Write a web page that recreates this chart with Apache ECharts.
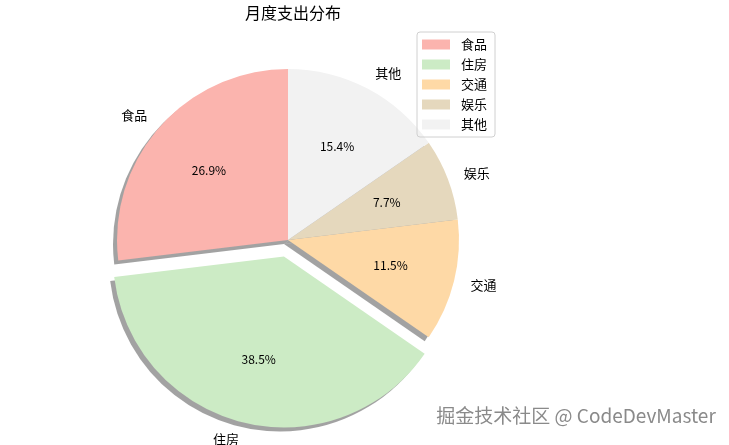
<!DOCTYPE html>
<html>
<head>
<meta charset="utf-8">
<script src="https://cdn.jsdelivr.net/npm/echarts@6/dist/echarts.min.js"></script>
<style>
  html, body { margin: 0; padding: 0; background: #fff; }
  #main { width: 729px; height: 445px; }
</style>
</head>
<body>
<div id="main"></div>
<script>
// 月度支出数据
var categories = ['食品', '住房', '交通', '娱乐', '其他'];
var amounts = [3500, 5000, 1500, 1000, 2000];
var colors = ['#fbb4ae', '#ccebc5', '#fed9a6', '#e5d8bd', '#f2f2f2'];
var explodeName = '住房';

var myChart = echarts.init(document.getElementById('main'));
var FONT = '"Noto Sans CJK SC", "DejaVu Sans", sans-serif';
var R = 171;
var CX = 288, CY = 240;

function buildData(fill) {
    return categories.map(function (name, i) {
        return {
            name: name,
            value: amounts[i],
            selected: name === explodeName,
            itemStyle: { color: fill ? fill : colors[i] }
        };
    });
}

var common = {
    type: 'pie',
    startAngle: 90,
    clockwise: false,
    selectedMode: 'single',
    selectedOffset: 17,
    avoidLabelOverlap: false,
    animation: false,
    emphasis: { disabled: true },
    minShowLabelAngle: 0
};

var option = {
    title: {
        text: '月度支出分布',
        left: CX,
        top: 0,
        textAlign: 'center',
        textStyle: { fontFamily: FONT, fontSize: 16, fontWeight: 'normal', color: '#000' }
    },
    legend: {
        orient: 'vertical',
        left: 417,
        top: 32,
        data: categories,
        itemWidth: 28,
        itemHeight: 10,
        itemGap: 7,
        padding: [6, 8, 6, 5],
        borderColor: '#d0d0d0',
        borderWidth: 1,
        borderRadius: 3,
        selectedMode: false,
        icon: 'rect',
        textStyle: { fontFamily: FONT, fontSize: 13, color: '#000', padding: [0, 0, 0, 6] }
    },
    graphic: [{
        type: 'text',
        right: 13,
        top: 406,
        style: {
            text: '掘金技术社区 @ CodeDevMaster',
            font: '19px ' + FONT,
            fill: '#8a8a8a',
            stroke: '#ffffff',
            lineWidth: 0.5
        }
    }],
    series: [
        Object.assign({}, common, {
            name: 'main',
            z: 3,
            center: [CX, CY],
            radius: R,
            data: buildData(null),
            label: {
                show: true,
                position: 'outside',
                formatter: '{b}',
                fontFamily: FONT,
                fontSize: 13,
                color: '#000',
                distanceToLabelLine: 0
            },
            labelLine: { show: false, length: 17, length2: 0 }
        }),
        Object.assign({}, common, {
            name: 'shadow',
            z: 1,
            silent: true,
            center: [CX - 4, CY + 4],
            radius: R,
            data: buildData('rgba(70,70,70,0.5)'),
            label: { show: false },
            labelLine: { show: false }
        }),
        Object.assign({}, common, {
            name: 'pct',
            z: 4,
            silent: true,
            center: [CX, CY],
            radius: R * 1.2,
            data: buildData('rgba(0,0,0,0)'),
            label: {
                show: true,
                position: 'inner',
                formatter: function (p) { return p.percent.toFixed(1) + '%'; },
                fontFamily: FONT,
                fontSize: 12,
                color: '#000'
            },
            labelLine: { show: false }
        })
    ]
};

myChart.setOption(option);
</script>
</body>
</html>
